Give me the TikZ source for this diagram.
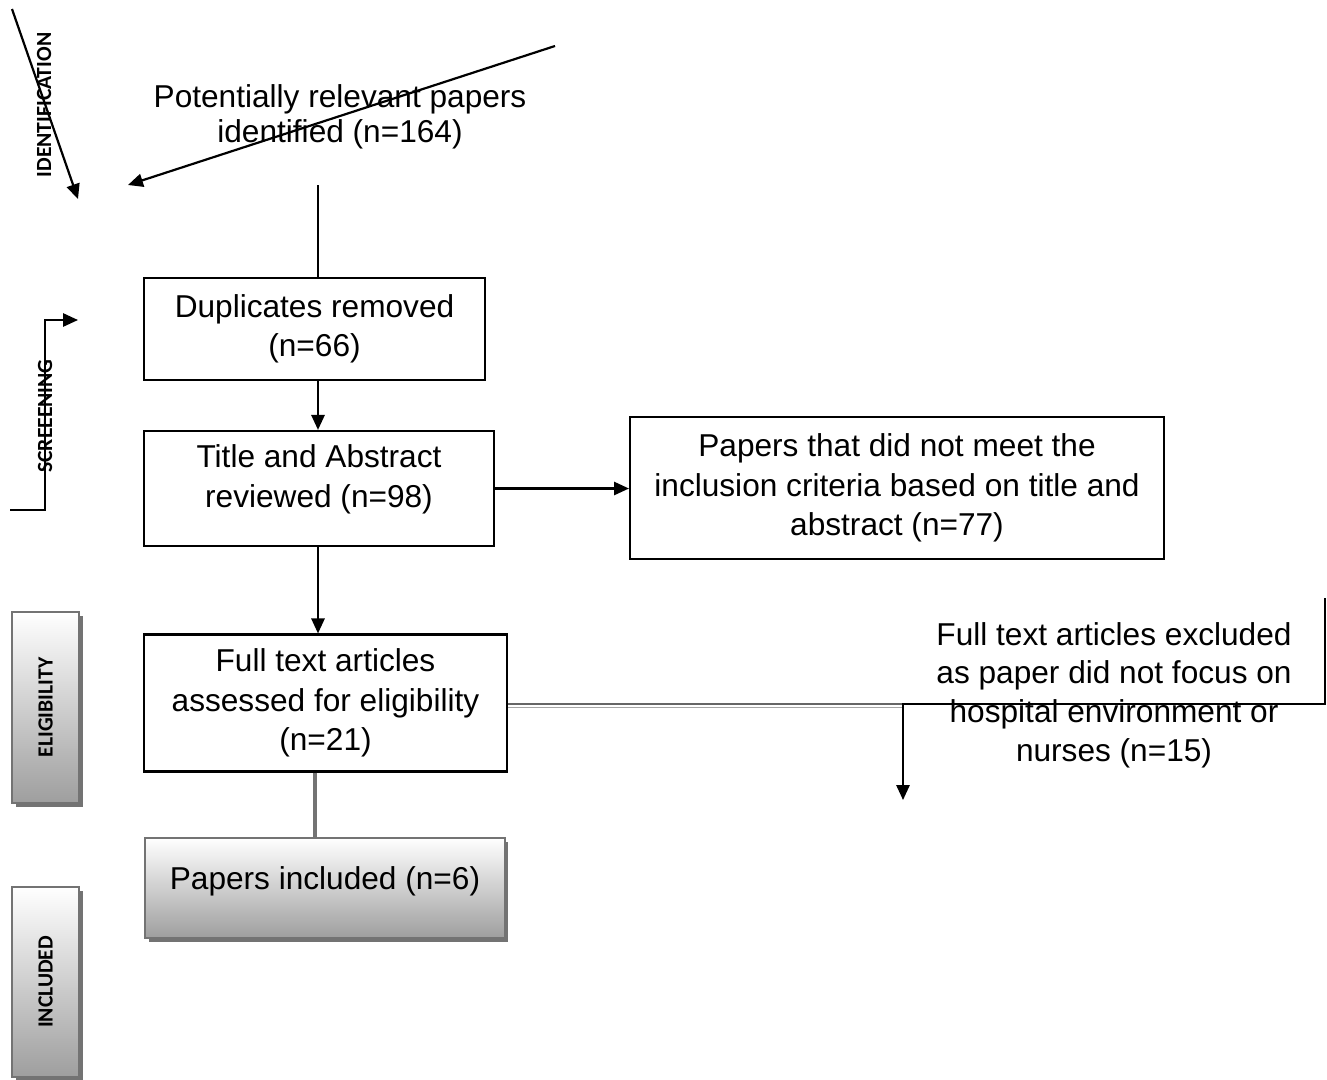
\documentclass[tikz,border=0pt]{standalone}
\usepackage{graphicx}
\usepackage{fontspec}
\setmainfont{Liberation Sans}
\newfontfamily\stagefont{Carlito}[BoldFont={* Bold}]
\usetikzlibrary{arrows.meta,shadows}
\newcommand{\stagetxt}[1]{{\stagefont\bfseries\fontsize{12.3}{14}\selectfont\rotatebox{90}{#1}}}

\begin{document}
\begin{tikzpicture}[x=0.02cm, y=-0.02cm, >={Triangle[length=8.5pt,width=7.5pt]}]
\tikzstyle{every node}=[inner sep=0pt, align=center,
                        font=\fontsize{18}{22.5}\selectfont]
\tikzstyle{flowbox}=[draw, line width=1.25pt]
\tikzstyle{link}=[line width=1.25pt]
\tikzstyle{shadebox}=[draw=black!55, line width=1.25pt, top color=white,
                      bottom color=black!38,
                      drop shadow={opacity=1, fill=black!55,
                                   shadow xshift=2pt, shadow yshift=-2pt}]
\useasboundingbox (0,0) rectangle (1327,1079);
% stage labels on the left
\node (idlbl) at (44,105) {\stagetxt{IDENTIFICATION}};
\node (scrlbl) at (45,416) {\stagetxt{SCREEENING}};
\node[shadebox, minimum width=1.34cm, minimum height=3.82cm] (elig) at (45.5,707.5) {\stagetxt{ELIGIBILITY}};
\node[shadebox, minimum width=1.34cm, minimum height=3.8cm] (inclbl) at (45.5,982) {\stagetxt{INCLUDED}};
% flow boxes
\node[font=\fontsize{18}{20}\selectfont] (ident) at (340,117) {Potentially relevant papers\\identified (n=164)};
\node[flowbox, minimum width=6.82cm, minimum height=2.04cm] (dup) at (314.5,329) {Duplicates removed\\(n=66)};
\node[flowbox, minimum width=7cm, minimum height=2.3cm, text depth=14pt] (title) at (319,488.5) {Title and Abstract\\reviewed (n=98)};
\node[flowbox, minimum width=10.68cm, minimum height=2.84cm] (notmet) at (897,488) {Papers that did not meet the\\inclusion criteria based on title and\\abstract (n=77)};
\node[flowbox, minimum width=7.26cm, minimum height=2.74cm] (full) at (325.5,703) {Full text articles\\assessed for eligibility\\(n=21)};
\node[font=\fontsize{18}{22}\selectfont] (excl) at (1114,695) {Full text articles excluded\\as paper did not focus on\\hospital environment or\\nurses (n=15)};
\node[shadebox, minimum width=7.2cm, minimum height=2cm, text depth=11pt] (incl) at (325,888) {Papers included (n=6)};
% connectors
\coordinate (spine) at (318,0);
\coordinate (inclx) at (315,0);
\coordinate (idtail) at (555,46);
\coordinate (idhead) at (128,185);
\coordinate (idtop) at (12,9);
\coordinate (idend) at (78,199);
\coordinate (dropstart) at (318,185);
\coordinate (scrfoot) at (10,510);
\coordinate (scrknee) at (45,510);
\coordinate (scrhead) at (78,320);
\coordinate (excltop) at (1325,598);
\coordinate (bend) at (903,704);
\coordinate (exclhead) at (903,800);
\draw[link, ->] (idtail) -- (idhead);
\draw[link, ->] (idtop) -- (idend);
\draw[link, ->] (scrfoot) -- (scrknee) |- (scrhead);
\draw[link] (dropstart) -- (dropstart |- dup.north);
\draw[link, ->] (dup.south -| spine) -- (title.north -| spine);
\draw[link, ->] (title.east) -- (title.east -| notmet.west);
\draw[link, ->] (title.south -| spine) -- (full.north -| spine);
\draw[black!60, line width=1.3pt] ([yshift=-0.4pt]full.east) -- ([yshift=-0.4pt]full.east -| bend);
\draw[black!35, line width=0.5pt] ([yshift=-2.7pt]full.east) -- ([yshift=-2.7pt]full.east -| bend);
\draw[link, ->] (excltop) |- (bend) -- (exclhead);
\draw[black!55, line width=2pt] (full.south -| inclx) -- (incl.north -| inclx);
\end{tikzpicture}
\end{document}
